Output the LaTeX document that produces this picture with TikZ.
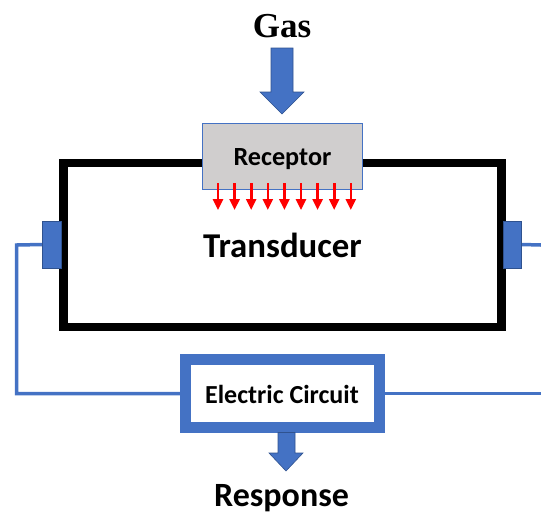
\documentclass[tikz,border=0pt]{standalone}
\usepackage{fontspec}
\setmainfont{Carlito}
\newfontfamily\gasfont{Liberation Serif}
\usetikzlibrary{arrows.meta,backgrounds}
\definecolor{accblue}{HTML}{4472C4}
\definecolor{darkblue}{HTML}{2F528F}
\definecolor{recgray}{HTML}{D0CECE}
\definecolor{arrred}{HTML}{FF0000}
\tikzset{
  lbl/.style={anchor=base,inner sep=0pt,font=\bfseries},
  transbox/.style={draw=black,line width=8.5pt,inner sep=0pt,outer sep=0pt,minimum width=438pt,minimum height=164pt},
  recbox/.style={draw=accblue,fill=recgray,line width=1pt,inner sep=0pt,outer sep=0pt,minimum width=160pt,minimum height=66pt},
  electrode/.style={draw=darkblue,fill=accblue,line width=0.8pt,inner sep=0pt,outer sep=0pt,minimum width=18.5pt,minimum height=47pt},
  ecbox/.style={draw=accblue,fill=white,line width=10.5pt,inner sep=0pt,outer sep=0pt,minimum width=194pt,minimum height=68pt},
  wire/.style={draw=accblue,line width=3.5pt},
  redarrow/.style={draw=arrred,line width=2.6pt,-{Triangle[length=11pt,width=10pt]}},
  blockarrow/.style={fill=accblue,draw=darkblue,line width=0.6pt},
}
\begin{document}
\begin{tikzpicture}[x=1pt,y=-1pt]
\useasboundingbox (0,0) rectangle (541,515);
% Gas label and input arrow
\node[lbl,font=\gasfont\bfseries\fontsize{35}{40}\selectfont] (gas) at (282,37) {Gas};
\draw[blockarrow] (271,48) -- (293,48) -- (293,92) -- (304,92) -- (282,114) -- (260,92) -- (271,92) -- cycle;
% Transducer
\node[transbox] (trans) at (282.5,245) {};
\node[lbl,font=\bfseries\fontsize{34.8}{40}\selectfont] (translabel) at (282.5,257) {Transducer};
% Receptor
\node[recbox] (rec) at (282.5,156) {};
\node[lbl,font=\bfseries\fontsize{26.2}{30}\selectfont] (reclabel) at (282.5,165) {Receptor};
\foreach \i in {0,...,8}{
  \draw[redarrow] ({218+16.6*\i},183) -- ({218+16.6*\i},210);
}
% Electrodes
\node[electrode] (eL) at (52,244.5) {};
\node[electrode] (eR) at (512.5,244.5) {};
% Electric circuit
\node[ecbox] (ec) at (282.4,393.5) {};
\node[lbl,font=\bfseries\fontsize{26}{30}\selectfont] (eclabel) at (282,403.3) {Electric Circuit};
% Response arrow and label
\draw[blockarrow] (278,432.5) -- (295,432.5) -- (295,453) -- (303,453) -- (286,471) -- (269,453) -- (278,453) -- cycle;
\node[lbl,font=\bfseries\fontsize{34}{40}\selectfont] (resp) at (281.5,506.5) {Response};
% Wires
\coordinate (lcorner) at (16.5,245);
\coordinate (rEndTop) at (541,245);
\coordinate (rEndBot) at (541,393.5);
\begin{scope}[on background layer]
  \draw[wire] (eL.west) -- (lcorner) |- (ec.west);
  \draw[wire] (eR.east) -- (rEndTop);
  \draw[wire] (ec.east) -- (rEndBot);
\end{scope}
\end{tikzpicture}
\end{document}
